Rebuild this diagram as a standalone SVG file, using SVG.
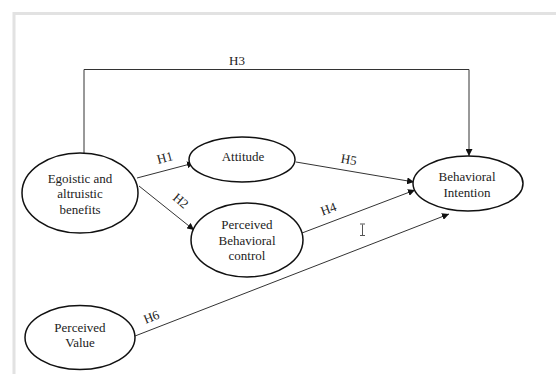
<svg xmlns="http://www.w3.org/2000/svg" width="556" height="374" viewBox="0 0 556 374" font-family="'Liberation Serif', 'Times New Roman', 'DejaVu Serif', serif">
<defs>
<marker id="ah" viewBox="0 0 10 10" refX="10" refY="5" markerWidth="7" markerHeight="7" markerUnits="userSpaceOnUse" orient="auto">
<path d="M0,0 L10,5 L0,10 z" fill="#111"/>
</marker>
<style>
.node ellipse{fill:#fff;stroke:#111;stroke-width:1.5}
text{font-family:'Liberation Serif','Times New Roman','DejaVu Serif',serif;font-size:13px;fill:#222}
.node text{text-anchor:middle}
.edge{fill:none;stroke:#333;stroke-width:1}
.lbl{text-anchor:middle}
</style>
</defs>
<rect width="556" height="374" fill="#fff"/>
<g id="frame">
<path d="M14,374 V13.5 H556" fill="none" stroke="#e2e2e2" stroke-width="3"/>
</g>
<g id="connectors">
<path class="edge" d="M84,153 V69.5 H469 V156" marker-end="url(#ah)"/>
<line class="edge" x1="137" y1="178" x2="194" y2="163" marker-end="url(#ah)"/>
<line class="edge" x1="139" y1="186" x2="194" y2="230" marker-end="url(#ah)"/>
<line class="edge" x1="296" y1="162" x2="414" y2="182" marker-end="url(#ah)"/>
<line class="edge" x1="302" y1="233" x2="415" y2="190" marker-end="url(#ah)"/>
<line class="edge" x1="135" y1="336" x2="449" y2="214" marker-end="url(#ah)"/>
<text class="lbl" x="237" y="65">H3</text>
<text class="lbl" transform="translate(166,162) rotate(-15)">H1</text>
<text class="lbl" transform="translate(178,204) rotate(40)">H2</text>
<text class="lbl" transform="translate(348,164) rotate(10)">H5</text>
<text class="lbl" transform="translate(330,213) rotate(-20)">H4</text>
<text class="lbl" transform="translate(153,321) rotate(-22)">H6</text>
</g>
<g id="egoistic" class="node">
<ellipse cx="80" cy="193" rx="58" ry="40"/>
<text x="80" y="183">Egoistic and</text>
<text x="80" y="198">altruistic</text>
<text x="80" y="214">benefits</text>
</g>
<g id="attitude" class="node">
<ellipse cx="242" cy="159.5" rx="53" ry="22.5"/>
<text x="243" y="161">Attitude</text>
</g>
<g id="pbc" class="node">
<ellipse cx="247" cy="240" rx="56" ry="37"/>
<text x="247" y="229">Perceived</text>
<text x="247" y="245">Behavioral</text>
<text x="247" y="260">control</text>
</g>
<g id="intention" class="node">
<ellipse cx="468" cy="183.5" rx="55" ry="27.5"/>
<text x="467" y="181">Behavioral</text>
<text x="467" y="197">Intention</text>
</g>
<g id="value" class="node">
<ellipse cx="80" cy="337.5" rx="55" ry="32"/>
<text x="80" y="332">Perceived</text>
<text x="80" y="347">Value</text>
</g>
<g id="cursor">
<path d="M362.5,224.5 V235 M360,224 H365 M360,235.5 H365" fill="none" stroke="#555" stroke-width="1"/>
</g>
</svg>
